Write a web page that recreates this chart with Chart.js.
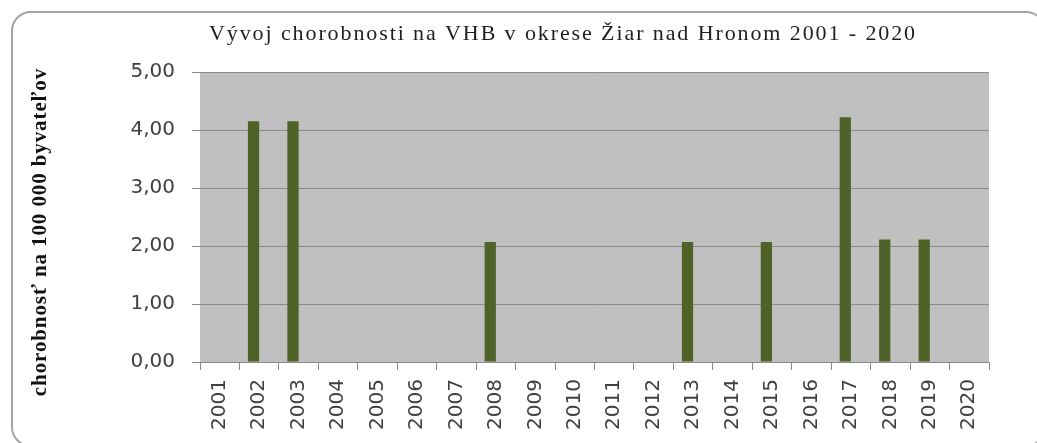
<!DOCTYPE html>
<html>
<head>
<meta charset="utf-8">
<script src="https://cdn.jsdelivr.net/npm/chart.js@4"></script>
<style>
  body { margin:0; background:#fff; overflow:hidden; }
  #wrap { position:relative; width:1037px; height:443px; overflow:hidden; }
  #frame {
    position:absolute; left:11px; top:11px; width:1035px; height:436px;
    box-sizing:border-box; border:2px solid #a3a3a3; border-radius:20px;
    pointer-events:none;
  }
</style>
</head>
<body>
<div id="wrap">
  <canvas id="chart" width="1037" height="443"></canvas>
  <div id="frame"></div>
</div>
<script>
// ── Data ──────────────────────────────────────────────────────────────────────
const titleText = 'Vývoj chorobnosti na VHB v okrese Žiar nad Hronom 2001 - 2020';
const yTitle    = 'chorobnosť na 100 000 byvateľov';

const years = ['2001','2002','2003','2004','2005','2006','2007','2008','2009','2010',
               '2011','2012','2013','2014','2015','2016','2017','2018','2019','2020'];
const rates = [0, 4.15, 4.15, 0, 0, 0, 0, 2.07, 0, 0,
               0, 0, 2.07, 0, 2.07, 0, 4.22, 2.11, 2.11, 0];
// second series of the source chart has no visible bars (all zero)
const rates2 = [0, 0, 0, 0, 0, 0, 0, 0, 0, 0,
                0, 0, 0, 0, 0, 0, 0, 0, 0, 0];
const yMin = 0, yMax = 5, yStep = 1;

// ── Colours / fonts ───────────────────────────────────────────────────────────
const BAR  = '#4f6228';
const PLOT = '#c0c0c0';
const GRID = '#8a8a8a';
const TXT  = '#404040';
const sans = { family:'"DejaVu Sans", sans-serif', size:20 };

// plot background + title + rotated y label
const decor = {
  id:'decor',
  beforeDraw(c) {
    const { ctx, chartArea:a } = c;
    ctx.save();
    ctx.fillStyle = PLOT;
    ctx.fillRect(a.left, a.top, a.right - a.left, a.bottom - a.top);
    ctx.restore();
  },
  afterDraw(c) {
    const ctx = c.ctx;
    ctx.save();
    ctx.fillStyle = '#1e1e1e';
    ctx.font = '22px "Liberation Serif", serif';
    ctx.letterSpacing = '1.9px';
    ctx.textBaseline = 'alphabetic';
    const w = ctx.measureText(titleText).width;
    ctx.fillText(titleText, 563 - w / 2, 40);

    ctx.fillStyle = '#111';
    ctx.font = 'bold 21px "Liberation Serif", serif';
    ctx.letterSpacing = '0.9px';
    ctx.textBaseline = 'middle';
    ctx.translate(41, 232);
    ctx.rotate(-Math.PI / 2);
    const w2 = ctx.measureText(yTitle).width;
    ctx.fillText(yTitle, -w2 / 2, 0);
    ctx.restore();
  }
};

new Chart(document.getElementById('chart').getContext('2d'), {
  type:'bar',
  data:{
    labels: years,
    datasets:[
      { label:'chorobnosť', data:rates,  backgroundColor:BAR, borderWidth:0 },
      { label:'',           data:rates2, backgroundColor:BAR, borderWidth:0 }
    ]
  },
  options:{
    responsive:false, animation:false, devicePixelRatio:1,
    layout:{ padding:{ left:130, right:48, top:72, bottom:0 } },
    datasets:{ bar:{ categoryPercentage:0.571, barPercentage:1.0 } },
    plugins:{ legend:{ display:false }, title:{ display:false }, tooltip:{ enabled:false } },
    scales:{
      x:{
        grid:{ offset:true, drawOnChartArea:false, color:GRID, tickLength:8 },
        border:{ display:true, color:GRID },
        ticks:{ color:TXT, font:sans, minRotation:90, maxRotation:90, autoSkip:false, padding:9 },
        afterFit(s){ s.height = 81; }
      },
      y:{
        min:yMin, max:yMax,
        grid:{ color:GRID, tickLength:8 },
        border:{ display:false },
        ticks:{ stepSize:yStep, color:TXT, font:sans, padding:17,
                callback:v => v.toFixed(2).replace('.', ',') },
        afterFit(s){ s.width = 70; }
      }
    }
  },
  plugins:[decor]
});
</script>
</body>
</html>
